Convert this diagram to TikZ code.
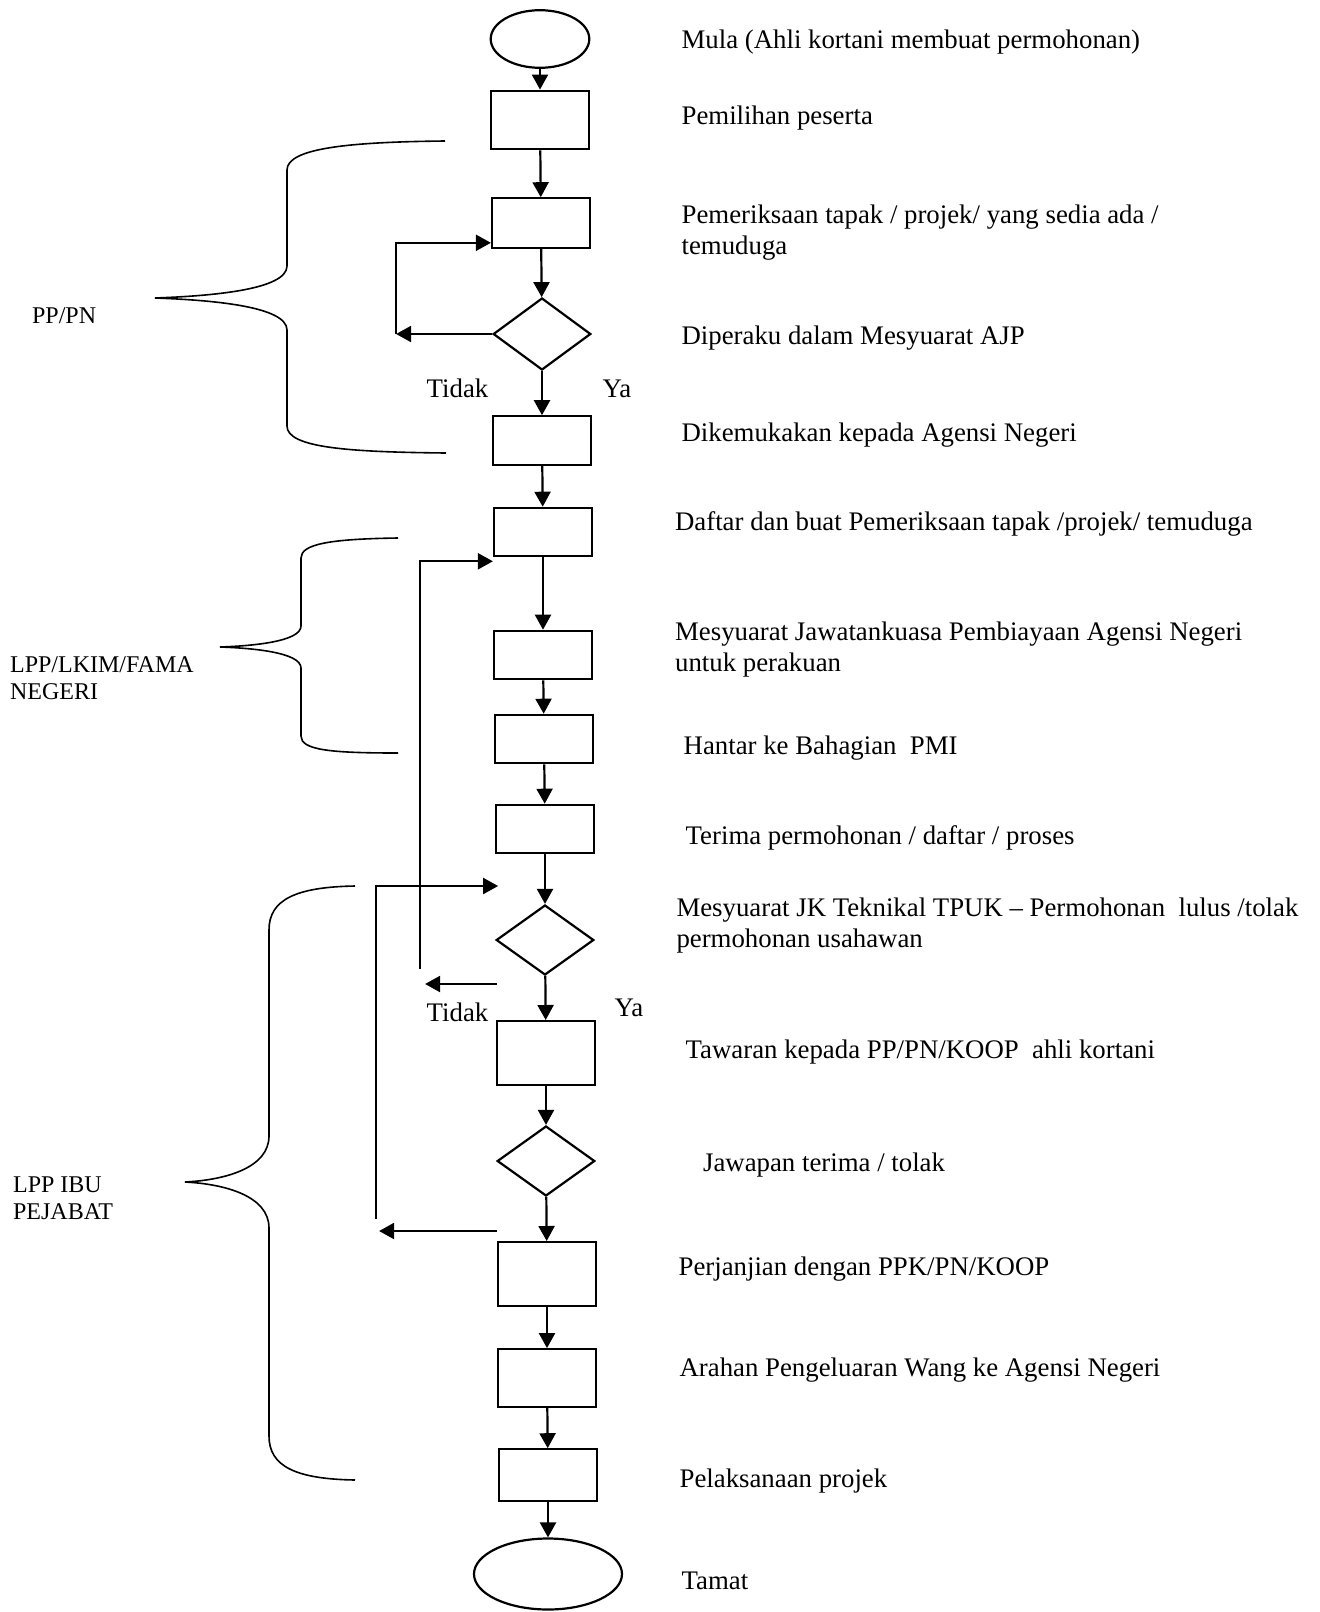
\documentclass[tikz,border=0pt]{standalone}
\usepackage{fontspec}
\setmainfont{Liberation Serif}
\usepackage{tikz}
\usetikzlibrary{calc, arrows, arrows.meta, shapes, positioning}
\tikzset{
    boxnode/.style = {draw, rectangle, fill=none, inner sep=0em, node distance=0em,
      minimum width=49pt, minimum height=24.2pt},
    decisionnode/.style = {draw, diamond, fill=none, inner sep=0em, node distance=0em,
      minimum width=48.8pt, minimum height=35pt},
    terminalnode/.style = {draw, ellipse, fill=none, inner sep=0em, node distance=0em},
    textnode/.style = {draw=none, fill=none, rectangle, minimum size=0cm, inner sep=0em,
      node distance=0em, align=left, font=\fontsize{13.4}{15.5}\selectfont},
    sidetextnode/.style = {textnode, font=\fontsize{12}{13.5}\selectfont},
    labelnode/.style = {draw=none, fill=none, inner sep=0em, node distance=0em,
      font=\fontsize{13.4}{15}\selectfont},
    connect/.style = {black, -{Triangle[length=7.5pt, width=8pt]}},
    bracket/.style = {black, line width=0.8pt}
}
\begin{document}
\begin{tikzpicture}[x=0.5pt, y=-0.5pt, line width=1.1pt]
    \useasboundingbox (0,0) rectangle (1320,1612);

    \node [terminalnode, name=start, minimum width=49.3pt, minimum height=28.8pt] at (540,39) {};
    \node [boxnode, name=box1, below of = start, yshift=-40.5pt, minimum height=29.3pt] {};
    \node [boxnode, name=box2, below of = box1, xshift=0.5pt, yshift=-51.5pt, minimum height=24.7pt] {};
    \node [decisionnode, name=d1, below of = box2, xshift=0.5pt, yshift=-55.5pt, minimum height=36pt] {};
    \node [boxnode, name=box3, below of = d1, yshift=-53.25pt] {};
    \node [boxnode, name=box4, below of = box3, xshift=0.5pt, yshift=-45.75pt] {};
    \node [boxnode, name=box5, below of = box4, yshift=-61.5pt] {};
    \node [boxnode, name=box6, below of = box5, xshift=0.5pt, yshift=-42pt] {};
    \node [boxnode, name=box7, below of = box6, xshift=0.5pt, yshift=-45pt] {};
    \node [decisionnode, name=d2, below of = box7, yshift=-55.5pt] {};
    \node [boxnode, name=box8, below of = d2, xshift=0.5pt, yshift=-56.5pt, minimum height=31.9pt] {};
    \node [decisionnode, name=d3, below of = box8, yshift=-54pt] {};
    \node [boxnode, name=box9, below of = d3, xshift=0.5pt, yshift=-56.5pt, minimum height=31.9pt] {};
    \node [boxnode, name=box10, below of = box9, yshift=-52pt, minimum height=28.8pt] {};
    \node [boxnode, name=box11, below of = box10, xshift=0.5pt, yshift=-48.5pt, minimum height=25.7pt] {};
    \node [terminalnode, name=finish, below of = box11, yshift=-49.5pt, minimum width=74pt, minimum height=35.5pt] {};

    \draw (start) edge[connect] (box1);
    \draw (box1) edge[connect] (box2);
    \draw (box2) edge[connect] (d1);
    \draw (d1) edge[connect] (box3);
    \draw (box3) edge[connect] (box4);
    \draw (box4) edge[connect] (box5);
    \draw (box5) edge[connect] (box6);
    \draw (box6) edge[connect] (box7);
    \draw (box7) edge[connect] (d2);
    \draw (d2) edge[connect] (box8);
    \draw (box8) edge[connect] (d3);
    \draw (d3) edge[connect] (box9);
    \draw (box9) edge[connect] (box10);
    \draw (box10) edge[connect] (box11);
    \draw (box11) edge[connect] (finish);

    \node [textnode, name=mula, right of = start, xshift=70.25pt, yshift=-1.5pt, anchor=west] {Mula (Ahli kortani membuat permohonan)};
    \node [textnode, name=pilih, right of = box1, xshift=70.25pt, yshift=1pt, anchor=west] {Pemilihan peserta};
    \node [textnode, name=periksa, right of = box2, xshift=69.75pt, yshift=-4.75pt, anchor=west] {Pemeriksaan tapak / projek/ yang sedia ada /\\temuduga};
    \node [textnode, name=peraku, right of = d1, xshift=69.25pt, yshift=-2pt, anchor=west] {Diperaku dalam Mesyuarat AJP};
    \node [textnode, name=kemuka, right of = box3, xshift=69.25pt, yshift=2.75pt, anchor=west] {Dikemukakan kepada Agensi Negeri};
    \node [textnode, name=daftar, right of = box4, xshift=65.5pt, yshift=4pt, anchor=west] {Daftar dan buat Pemeriksaan tapak /projek/ temuduga};
    \node [textnode, name=jkagensi, right of = box5, xshift=65.5pt, yshift=2.75pt, anchor=west] {Mesyuarat Jawatankuasa Pembiayaan Agensi Negeri\\untuk perakuan};
    \node [textnode, name=hantar, right of = box6, xshift=69.3pt, yshift=-4.5pt, anchor=west] {Hantar ke Bahagian~ PMI};
    \node [textnode, name=terima, right of = box7, xshift=69.8pt, yshift=-4.5pt, anchor=west] {Terima permohonan / daftar / proses};
    \node [textnode, name=jktpuk, right of = d2, xshift=65.2pt, yshift=7pt, anchor=west] {Mesyuarat JK Teknikal TPUK -- Permohonan~ lulus /tolak\\permohonan usahawan};
    \node [textnode, name=tawaran, right of = box8, xshift=69.3pt, yshift=0.7pt, anchor=west] {Tawaran kepada PP/PN/KOOP~ ahli kortani};
    \node [textnode, name=jawapan, right of = d3, xshift=78pt, yshift=-1.8pt, anchor=west] {Jawapan terima / tolak};
    \node [textnode, name=janji, right of = box9, xshift=65.25pt, yshift=2.25pt, anchor=west] {Perjanjian dengan PPK/PN/KOOP};
    \node [textnode, name=arahan, right of = box10, xshift=65.75pt, yshift=4pt, anchor=west] {Arahan Pengeluaran Wang ke Agensi Negeri};
    \node [textnode, name=laksana, right of = box11, xshift=65.25pt, yshift=-3pt, anchor=west] {Pelaksanaan projek};
    \node [textnode, name=tamat, right of = finish, xshift=66.25pt, yshift=-3.5pt, anchor=west] {Tamat};

    \node [labelnode, name=tidakA, below of = d1, xshift=-42.25pt, yshift=-27.3pt] {Tidak};
    \node [labelnode, name=yaA, below of = d1, xshift=37.5pt, yshift=-27.3pt] {Ya};
    \node [labelnode, name=tidakB, below of = d2, xshift=-43.75pt, yshift=-36.3pt] {Tidak};
    \node [labelnode, name=yaB, below of = d2, xshift=42pt, yshift=-33.7pt] {Ya};

    \coordinate (cornerA) at ($(d1.west)+(-96,0)$);
    \coordinate (backA) at ($(box2.south west)+(0,-6)$);
    \draw (d1.west) edge[connect] (cornerA);
    \draw[connect] (cornerA) |- (backA);

    \coordinate (backB) at ($(box4.south west)+(0,4)$);
    \coordinate (cornerB) at ($(d2.west)+(-75,29)$);
    \coordinate (tidakB) at ($(d2.west)+(2,44)$);
    \coordinate (tipB) at ($(d2.west)+(-70,44)$);
    \draw[connect] (cornerB) |- (backB);
    \draw (tidakB) edge[connect] (tipB);

    \coordinate (backC) at ($(d2.west)+(3,-54)$);
    \coordinate (cornerC) at ($(d3.west)+(-120,58)$);
    \coordinate (tidakC) at ($(d3.west)+(1,70)$);
    \coordinate (tipC) at ($(d3.west)+(-117,70)$);
    \draw[connect] (cornerC) |- (backC);
    \draw (tidakC) edge[connect] (tipC);

    \draw[bracket] (445,141) .. controls (350,142) and (287,148) .. (287,170) -- (287,266)
        .. controls (287,290) and (210,296) .. (155,298)
        .. controls (210,300) and (287,306) .. (287,330) -- (287,426)
        .. controls (287,448) and (350,452) .. (446,453);
    \draw[bracket] (398,538) .. controls (330,539) and (301,544) .. (301,558) -- (301,626)
        .. controls (301,642) and (250,646) .. (220,647)
        .. controls (250,648) and (301,652) .. (301,668) -- (301,736)
        .. controls (301,750) and (330,753) .. (398,753);
    \draw[bracket] (355,886) .. controls (295,887) and (269,900) .. (269,930) -- (269,1136)
        .. controls (269,1168) and (225,1180) .. (185,1182)
        .. controls (225,1184) and (269,1196) .. (269,1228) -- (269,1436)
        .. controls (269,1466) and (295,1479) .. (355,1480);

    \node [sidetextnode, name=ppn, anchor=west] at (31,316) {PP/PN};
    \node [sidetextnode, name=lkim, anchor=west] at (9,678) {LPP/LKIM/FAMA\\NEGERI};
    \node [sidetextnode, name=ibu, anchor=west] at (12,1198) {LPP IBU\\PEJABAT};
\end{tikzpicture}
\end{document}
